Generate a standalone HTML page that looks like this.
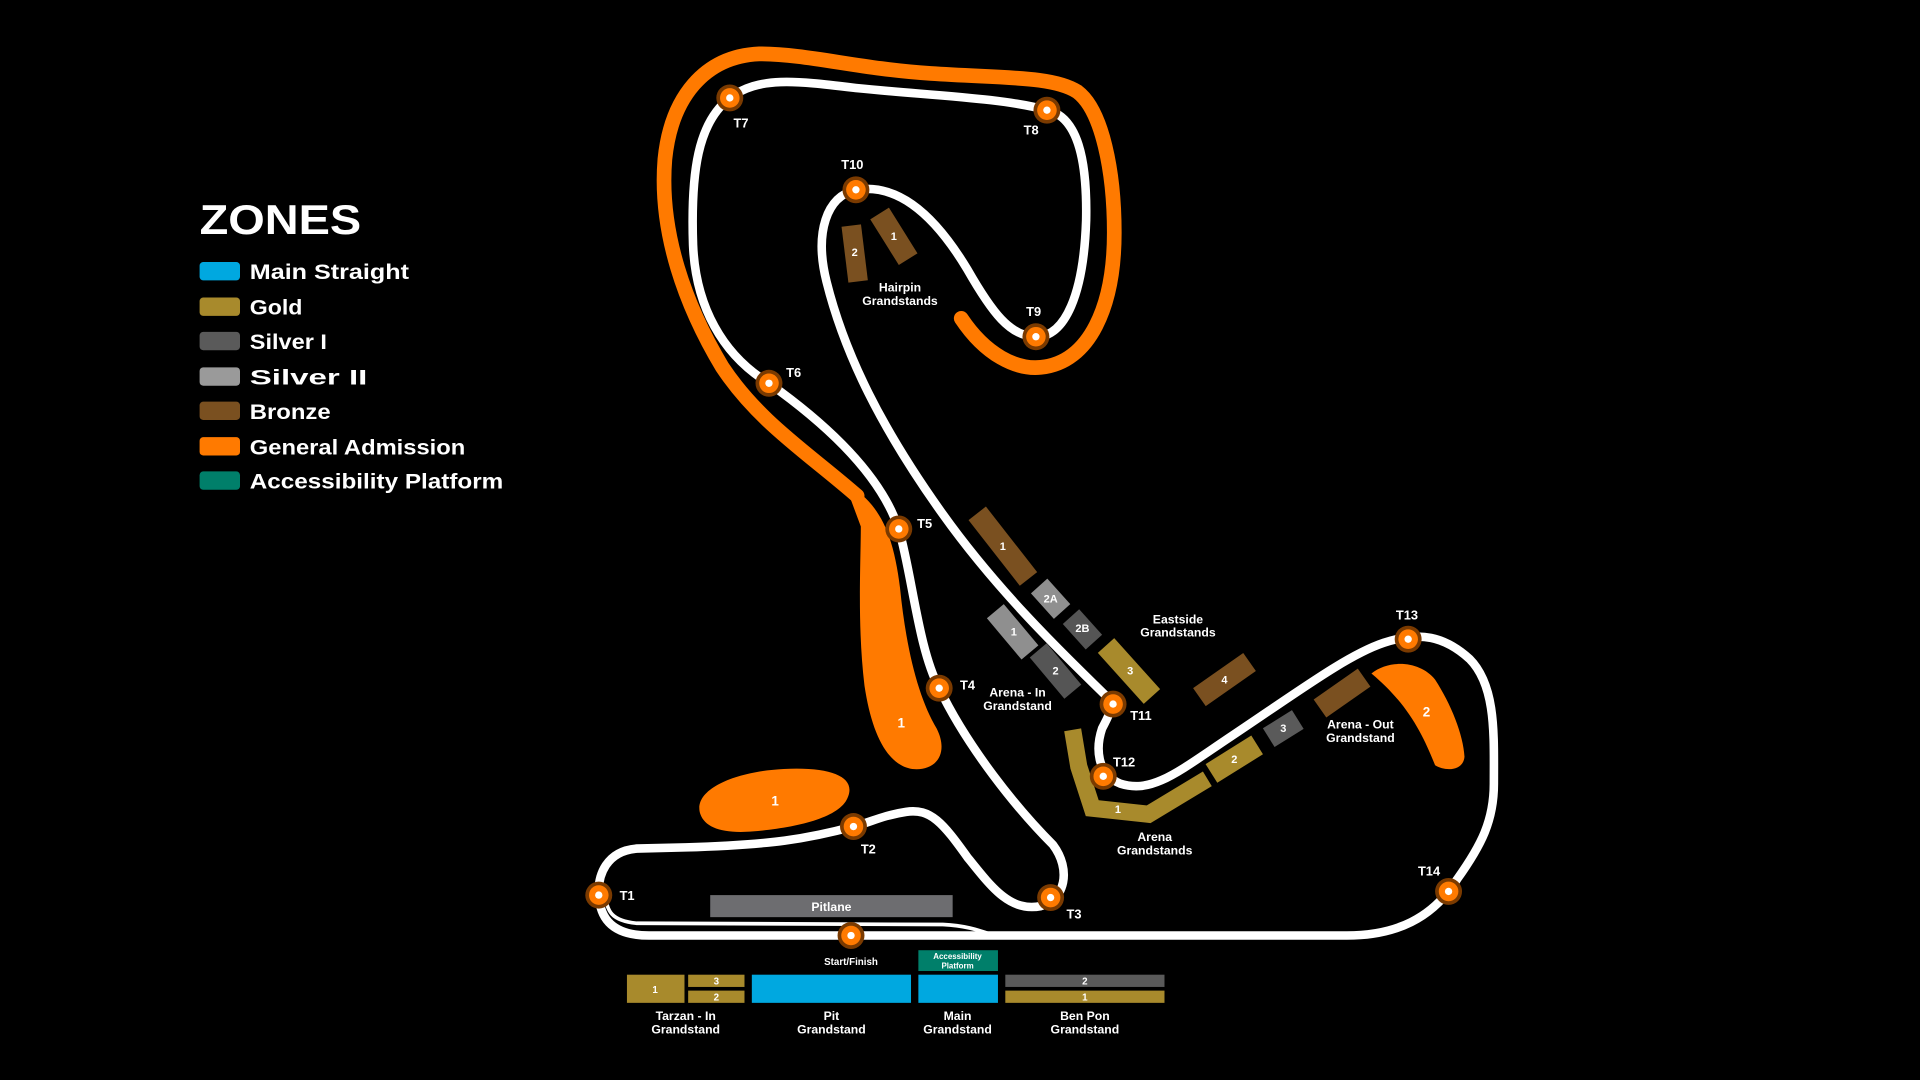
<!DOCTYPE html>
<html><head><meta charset="utf-8"><style>
html,body{margin:0;padding:0;background:#000;width:1920px;height:1080px;overflow:hidden}
svg{display:block}
text{font-family:"Liberation Sans",sans-serif;fill:#fff;font-weight:bold}
</style></head><body>
<svg width="1920" height="1080" viewBox="0 0 1568 882" xmlns="http://www.w3.org/2000/svg">
<rect width="1568" height="882" fill="#000"/>
<!-- legend -->
<text x="163" y="191" font-size="34" font-weight="900" textLength="132" lengthAdjust="spacingAndGlyphs">ZONES</text>
<g font-size="17.5">
<rect x="163" y="214" width="33" height="15" rx="3" fill="#00a8e0"/><text x="204" y="228" textLength="130" lengthAdjust="spacingAndGlyphs">Main Straight</text>
<rect x="163" y="243" width="33" height="15" rx="3" fill="#a88a2c"/><text x="204" y="257" textLength="43" lengthAdjust="spacingAndGlyphs">Gold</text>
<rect x="163" y="271" width="33" height="15" rx="3" fill="#5a5a5a"/><text x="204" y="285" textLength="63" lengthAdjust="spacingAndGlyphs">Silver I</text>
<rect x="163" y="300" width="33" height="15" rx="3" fill="#9a9a9a"/><text x="204" y="314" textLength="96" lengthAdjust="spacingAndGlyphs">Silver II</text>
<rect x="163" y="328" width="33" height="15" rx="3" fill="#7a5020"/><text x="204" y="342" textLength="66" lengthAdjust="spacingAndGlyphs">Bronze</text>
<rect x="163" y="357" width="33" height="15" rx="3" fill="#ff7a00"/><text x="204" y="371" textLength="176" lengthAdjust="spacingAndGlyphs">General Admission</text>
<rect x="163" y="385" width="33" height="15" rx="3" fill="#007f6a"/><text x="204" y="399" textLength="207" lengthAdjust="spacingAndGlyphs">Accessibility Platform</text>
</g>
<!-- orange GA line -->
<path d="M785,260 C805,290 830,302 850,300 C890,296 910,250 910,190 C910,140 900,90 880,75 C860,62 820,64 760,60 C700,56 660,44 620,44 C575,46 548,80 543,130 C538,190 560,250 590,300 C620,345 660,370 700,405" fill="none" stroke="#ff7a00" stroke-width="12" stroke-linecap="round"/>
<path d="M690,395 C720,410 730,440 735,480 C740,530 750,570 765,595 C775,615 765,630 745,628 C725,625 712,600 706,560 C700,510 703,460 703,430 Z" fill="#ff7a00"/>
<path d="M572,665 C565,645 600,630 640,628 C680,626 700,635 692,652 C685,668 650,676 615,679 C590,681 576,676 572,665 Z" fill="#ff7a00"/>
<path d="M1120,550 C1135,538 1160,540 1172,555 C1185,575 1195,600 1196,618 C1195,630 1180,630 1172,625 C1162,600 1150,575 1120,550 Z" fill="#ff7a00"/>
<!-- pit lane line -->
<path d="M494,728 C495,745 500,752 520,754 L770,755 C790,756 800,760 812,764" fill="none" stroke="#fff" stroke-width="3"/>
<!-- track -->
<path d="M695,764 L1100,764 C1140,764 1170,750 1190,718 C1210,690 1220,670 1220,640 C1220,600 1222,560 1200,538 C1180,520 1160,515 1130,525 C1100,535 1060,565 1000,605 C960,632 940,648 915,640 C895,632 895,610 900,595 C905,585 910,578 905,570 C880,545 820,490 770,420 C720,350 690,290 675,230 C665,190 675,160 699,155 C730,150 760,170 790,220 C810,255 825,275 846,275 C870,275 885,240 887,180 C888,130 880,95 855,90 C820,80 760,78 700,72 C650,66 620,62 596,80 C570,100 564,140 566,200 C568,250 590,290 628,313 C680,350 720,390 734,432 C745,470 750,530 767,562 C790,610 830,660 860,690 C875,710 870,735 850,740 C825,745 810,725 790,700 C770,672 760,660 740,663 C720,666 710,672 697,675 C660,685 630,690 560,692 L520,693 C495,695 488,715 489,731 C490,750 500,764 530,764 Z" fill="none" stroke="#fff" stroke-width="7" stroke-linejoin="round"/>
<!-- grandstands -->
<g fill="#7a5020">
<rect x="-8" y="-23" width="16" height="46" transform="translate(698,207) rotate(-7)"/>
<rect x="-9" y="-22" width="18" height="44" transform="translate(730,193) rotate(-32)"/>
<rect x="-9" y="-34" width="18" height="68" transform="translate(819,446) rotate(-38)"/>
<rect x="-9" y="-25" width="18" height="50" transform="translate(1000,555) rotate(55)"/>
<rect x="-9" y="-22" width="18" height="44" transform="translate(1096,566) rotate(55)"/>
</g>
<rect x="-9" y="-14" width="18" height="28" transform="translate(858,489) rotate(-42)" fill="#8f8f8f"/>
<rect x="-9" y="-14" width="18" height="28" transform="translate(884,514) rotate(-42)" fill="#555"/>
<rect x="-9" y="-28" width="18" height="56" transform="translate(922,548) rotate(-42)" fill="#a88a2c"/>
<rect x="-9" y="-22" width="18" height="44" transform="translate(827,516) rotate(-40)" fill="#8f8f8f"/>
<rect x="-9" y="-22" width="18" height="44" transform="translate(862,548) rotate(-40)" fill="#555"/>
<path d="M876,596 L881,626 L892,660 L938,665 L986,636" fill="none" stroke="#a88a2c" stroke-width="14"/>
<rect x="-9" y="-22" width="18" height="44" transform="translate(1008,620) rotate(58)" fill="#a88a2c"/>
<rect x="-9" y="-14" width="18" height="28" transform="translate(1048,595) rotate(58)" fill="#5a5a5a"/>
<g font-size="9" text-anchor="middle">
<text x="698" y="209">2</text><text x="730" y="196">1</text><text x="819" y="449">1</text>
<text x="858" y="492">2A</text><text x="884" y="516">2B</text><text x="923" y="551">3</text>
<text x="1000" y="558">4</text><text x="828" y="519">1</text><text x="862" y="551">2</text>
<text x="913" y="664">1</text><text x="1008" y="623">2</text><text x="1048" y="598">3</text>
</g>
<g font-size="11" text-anchor="middle">
<text x="633" y="658">1</text><text x="736" y="594">1</text><text x="1165" y="585">2</text>
</g>
<!-- pitlane & bottom stands -->
<rect x="580" y="731" width="198" height="18" fill="#6d6d70"/>
<text x="679" y="744" font-size="10" text-anchor="middle">Pitlane</text>
<rect x="512" y="796" width="47" height="23" fill="#a88a2c"/>
<rect x="562" y="796" width="46" height="10" fill="#a88a2c"/>
<rect x="562" y="809" width="46" height="10" fill="#a88a2c"/>
<rect x="614" y="796" width="130" height="23" fill="#00a8e0"/>
<rect x="750" y="796" width="65" height="23" fill="#00a8e0"/>
<rect x="750" y="776" width="65" height="17" fill="#007f6a"/>
<rect x="821" y="796" width="130" height="10" fill="#5a5a5a"/>
<rect x="821" y="809" width="130" height="10" fill="#a88a2c"/>
<g font-size="8" text-anchor="middle">
<text x="535" y="811">1</text><text x="585" y="804">3</text><text x="585" y="817">2</text>
<text x="886" y="804">2</text><text x="886" y="817">1</text>
<text x="695" y="788">Start/Finish</text>
</g>
<g font-size="6.5" text-anchor="middle"><text x="782" y="783">Accessibility</text><text x="782" y="791">Platform</text></g>
<g font-size="10" text-anchor="middle">
<text x="560" y="833">Tarzan - In</text><text x="560" y="844">Grandstand</text>
<text x="679" y="833">Pit</text><text x="679" y="844">Grandstand</text>
<text x="782" y="833">Main</text><text x="782" y="844">Grandstand</text>
<text x="886" y="833">Ben Pon</text><text x="886" y="844">Grandstand</text>
<text x="735" y="238">Hairpin</text><text x="735" y="249">Grandstands</text>
<text x="962" y="509">Eastside</text><text x="962" y="520">Grandstands</text>
<text x="831" y="569">Arena - In</text><text x="831" y="580">Grandstand</text>
<text x="1111" y="595">Arena - Out</text><text x="1111" y="606">Grandstand</text>
<text x="943" y="687">Arena</text><text x="943" y="698">Grandstands</text>
</g>
<!-- turn markers -->
<g>
<g fill="#7a3a00"><circle cx="489" cy="731" r="11"/><circle cx="697" cy="675" r="11"/><circle cx="858" cy="733" r="11"/><circle cx="767" cy="562" r="11"/><circle cx="734" cy="432" r="11"/><circle cx="628" cy="313" r="11"/><circle cx="596" cy="80" r="11"/><circle cx="855" cy="90" r="11"/><circle cx="846" cy="275" r="11"/><circle cx="699" cy="155" r="11"/><circle cx="909" cy="575" r="11"/><circle cx="901" cy="634" r="11"/><circle cx="1150" cy="522" r="11"/><circle cx="1183" cy="728" r="11"/><circle cx="695" cy="764" r="11"/></g>
<g fill="#ff7a00"><circle cx="489" cy="731" r="8"/><circle cx="697" cy="675" r="8"/><circle cx="858" cy="733" r="8"/><circle cx="767" cy="562" r="8"/><circle cx="734" cy="432" r="8"/><circle cx="628" cy="313" r="8"/><circle cx="596" cy="80" r="8"/><circle cx="855" cy="90" r="8"/><circle cx="846" cy="275" r="8"/><circle cx="699" cy="155" r="8"/><circle cx="909" cy="575" r="8"/><circle cx="901" cy="634" r="8"/><circle cx="1150" cy="522" r="8"/><circle cx="1183" cy="728" r="8"/><circle cx="695" cy="764" r="8"/></g>
<g fill="#fff"><circle cx="489" cy="731" r="3"/><circle cx="697" cy="675" r="3"/><circle cx="858" cy="733" r="3"/><circle cx="767" cy="562" r="3"/><circle cx="734" cy="432" r="3"/><circle cx="628" cy="313" r="3"/><circle cx="596" cy="80" r="3"/><circle cx="855" cy="90" r="3"/><circle cx="846" cy="275" r="3"/><circle cx="699" cy="155" r="3"/><circle cx="909" cy="575" r="3"/><circle cx="901" cy="634" r="3"/><circle cx="1150" cy="522" r="3"/><circle cx="1183" cy="728" r="3"/><circle cx="695" cy="764" r="3"/></g>
</g>
<g font-size="10.5">
<text x="506" y="735">T1</text><text x="703" y="697">T2</text><text x="871" y="750">T3</text>
<text x="784" y="563">T4</text><text x="749" y="431">T5</text><text x="642" y="308">T6</text>
<text x="599" y="104">T7</text><text x="836" y="110">T8</text><text x="838" y="258">T9</text>
<text x="687" y="138">T10</text><text x="923" y="588">T11</text><text x="909" y="626">T12</text>
<text x="1140" y="506">T13</text><text x="1158" y="715">T14</text>
</g>
</svg>
</body></html>
